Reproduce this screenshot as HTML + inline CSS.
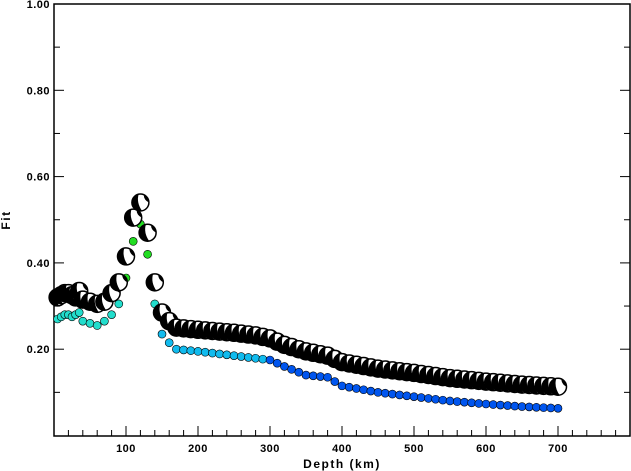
<!DOCTYPE html><html><head><style>body{margin:0;background:#fff}svg{display:block;font-family:"Liberation Sans",sans-serif;font-weight:bold}</style></head><body>
<svg id="s" width="631" height="471" xmlns="http://www.w3.org/2000/svg"></svg>
<script>
const s=document.getElementById('s');let h='';
const X=d=>54+d*0.72, Y=f=>435.5-f*431.5;
h+='<rect x="54" y="4" width="576" height="432" fill="none" stroke="#000" stroke-width="1.5"/>';
for(let d=20;d<800;d+=20){const m=d%100==0;h+=`<line x1="${X(d)}" x2="${X(d)}" y1="436" y2="${436-(m?10:6)}" stroke="#000"/>`;}
for(let d=100;d<800;d+=100)h+=`<text x="${X(d)}" y="452" font-size="11" text-anchor="middle" letter-spacing="0.5">${d}</text>`;
for(let f=0.1;f<1;f+=0.1){const m=Math.round(f*10)%2==0;h+=`<line x1="54" x2="${54+(m?10:6)}" y1="${Y(f)}" y2="${Y(f)}" stroke="#000"/><line x1="630" x2="${630-(m?10:6)}" y1="${Y(f)}" y2="${Y(f)}" stroke="#000"/>`;}
for(const f of [0.2,0.4,0.6,0.8,1.0])h+=`<text x="50" y="${Y(f)+4}" font-size="11" text-anchor="end" letter-spacing="0.5">${f.toFixed(2)}</text>`;
h+='<text x="342" y="468" font-size="12" text-anchor="middle" letter-spacing="1.5">Depth (km)</text>';
h+='<text transform="translate(10,220) rotate(-90)" font-size="12" text-anchor="middle" letter-spacing="1.5">Fit</text>';
const B=[[5,.32],[10,.325],[15,.33],[20,.33],[25,.325],[30,.32],[35,.335],[40,.315],[50,.31],[60,.305],[70,.31],[80,.33],[90,.355],[100,.415],[110,.505],[120,.54],[130,.47],[140,.355],[150,.285],[160,.265],[170,.25],[200,.245],[250,.238],[280,.232],[300,.225],[320,.21],[350,.195],[380,.185],[400,.17],[450,.155],[500,.145],[550,.133],[600,.125],[650,.118],[700,.113]];
const C=[[5,.27],[10,.275],[15,.28],[20,.28],[25,.275],[30,.28],[35,.285],[40,.265],[50,.26],[60,.255],[70,.265],[80,.28],[90,.305],[100,.365],[110,.45],[120,.49],[130,.42],[140,.305],[150,.235],[160,.215],[170,.2],[200,.195],[250,.185],[300,.175],[320,.16],[350,.14],[380,.135],[400,.115],[450,.1],[500,.09],[550,.08],[600,.073],[650,.067],[700,.063]];
function interp(T,d){for(let i=0;i<T.length-1;i++)if(d<=T[i+1][0]){const a=T[i],b=T[i+1];return a[1]+(b[1]-a[1])*(d-a[0])/(b[0]-a[0]);}return T[T.length-1][1];}
const ds=[5,10,15,20,25,30,35,40];for(let d=50;d<=700;d+=10)ds.push(d);
for(const d of ds){const f=interp(C,d);let col;
 if(d>=100&&d<=130)col='#22dd22';else if(d<150)col='#22ddcc';else if(d<300)col='#11bbee';else col='#0055ee';
 h+=`<circle cx="${X(d)}" cy="${Y(f)}" r="4" fill="${col}" stroke="#000" stroke-width="0.6"/>`;}
for(const d of ds){const x=X(d),y=Y(interp(B,d)),r=8.5;
 h+=`<circle cx="${x}" cy="${y}" r="${r}" fill="#fff" stroke="#000" stroke-width="1.5"/><path d="M${x-r*0.2},${y-r} A${r},${r} 0 0 0 ${x+r*0.2},${y+r} Q${x-r*0.5},${y} ${x-r*0.2},${y-r} Z" fill="#000"/><path d="M${x+r*0.4},${y-r*0.9} A${r},${r} 0 0 1 ${x+r},${y} Q${x+r*0.4},${y-r*0.3} ${x+r*0.4},${y-r*0.9} Z" fill="#000"/>`;}
s.innerHTML=h;
</script></body></html>
